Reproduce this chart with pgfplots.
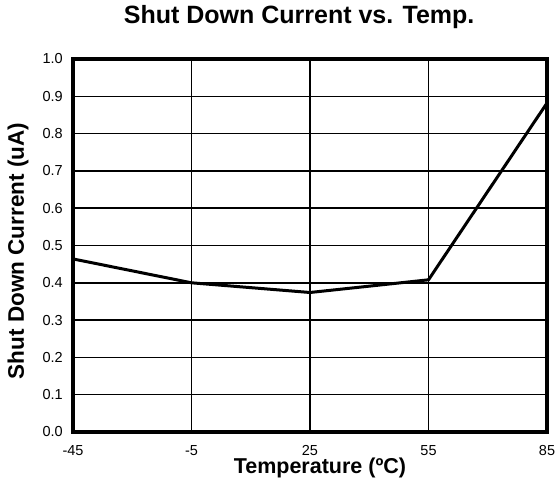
\documentclass[border=0pt]{standalone}
\usepackage{fontspec}
\setmainfont{Liberation Sans}
\usepackage{pgfplots}
\pgfplotsset{compat=1.18}
\begin{document}
\begin{tikzpicture}
\useasboundingbox (-73pt,-52pt) rectangle (484pt,432pt);
\begin{axis}[
  scale only axis,
  anchor=south west, at={(0pt,0pt)},
  width=474pt, height=373pt,
  xmin=0, xmax=4, ymin=0, ymax=1,
  xtick={0,1,2,3,4},
  xticklabels={-45,-5,25,55,85},
  ytick={0,0.1,...,1.0},
  yticklabel style={/pgf/number format/fixed,/pgf/number format/fixed zerofill,/pgf/number format/precision=1},
  /pgf/number format/assume math mode=true,
  tick label style={font=\fontsize{14.5}{16}\selectfont, inner sep=0pt},
  major tick length=0pt,
  grid=major,
  major grid style={black, line width=1.5pt},
  axis line style={black, line width=3.5pt},
  title={\bfseries Shut Down Current vs. Temp.},
  title style={font=\fontsize{25}{28}\selectfont, at={(axis description cs:0.477,1.0804)}, anchor=base},
  xlabel={\bfseries Temperature (ºC)},
  ylabel={\bfseries Shut Down Current (uA)},
  xlabel style={font=\fontsize{21.5}{26}\selectfont, at={(axis description cs:0.521,-0.1126)}, anchor=base},
  ylabel style={font=\fontsize{22.5}{26}\selectfont, at={(axis description cs:-0.116,0.485)}, anchor=center},
  xticklabel style={yshift=-13pt},
  yticklabel style={xshift=-10pt},
]
\addplot[black, line width=3pt, mark=none] coordinates {(0,0.464) (1,0.40) (2,0.374) (3,0.408) (4,0.882)};
\end{axis}
\end{tikzpicture}
\end{document}
